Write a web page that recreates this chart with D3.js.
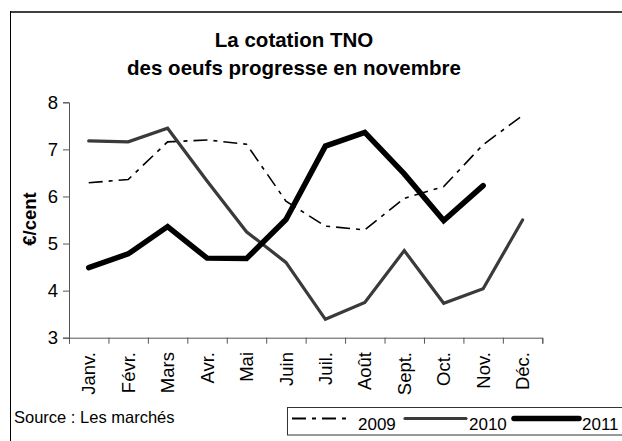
<html>
  <head>
    <meta charset="utf-8">
    <title>cotation TNO</title>
    <script src="https://d3js.org/d3.v7.min.js"></script>
    <style>
      body { margin: 0; background: #fff; }
      text { font-family: "Liberation Sans", Arial, sans-serif; fill: #000; }
    </style>
  </head>

  <body>
    <div id='wrapper'>
      <script>
        // Values
        var months = ["Janv.", "Févr.", "Mars", "Avr.", "Mai", "Juin", "Juil.", "Août", "Sept.", "Oct.", "Nov.", "Déc."];
        var yTicks = [3, 4, 5, 6, 7, 8];
        var v2009 = [6.29, 6.36, 7.16, 7.20, 7.11, 5.90, 5.37, 5.29, 5.96, 6.21, 7.10, 7.72];
        var v2010 = [7.18, 7.16, 7.45, 6.33, 5.25, 4.60, 3.39, 3.75, 4.85, 3.73, 4.04, 5.50];
        var v2011 = [4.49, 4.78, 5.36, 4.69, 4.68, 5.51, 7.07, 7.36, 6.48, 5.49, 6.23];
        var seriesNames = ["2009", "2010", "2011"];

        var W = 622, H = 441;
        var plotLeft = 69, plotRight = 542.3, plotTop = 102.3, plotBottom = 337.7;

        var svg = d3.select("#wrapper").append("svg")
          .attr("width", W)
          .attr("height", H);

        // outer frame (top and left visible)
        svg.append("line").attr("x1", 10.5).attr("x2", W).attr("y1", 12).attr("y2", 12)
           .attr("stroke", "#404040").attr("stroke-width", 2);
        svg.append("line").attr("x1", 10.5).attr("x2", 10.5).attr("y1", 11).attr("y2", H)
           .attr("stroke", "#000").attr("stroke-width", 1);

        // title
        var title = svg.append("text")
          .attr("text-anchor", "middle")
          .style("font-size", "20.5px")
          .style("font-weight", "bold");
        title.append("tspan").attr("x", 294).attr("y", 47).text("La cotation TNO");
        title.append("tspan").attr("x", 294).attr("y", 75).text("des oeufs progresse en novembre");

        // scales
        var x = d3.scaleBand().domain(months).range([plotLeft, plotRight]);
        var xEdge = d3.scaleLinear().domain([0, 12]).range([plotLeft, plotRight]);
        var y = d3.scaleLinear().domain([3, 8]).range([plotBottom, plotTop]);

        // y axis
        var yAxis = d3.axisLeft(y).tickValues(yTicks).tickFormat(d3.format("d")).tickSize(6).tickPadding(5);
        var gy = svg.append("g").attr("transform", "translate(" + plotLeft + ",0)").call(yAxis);
        gy.selectAll("path, line").attr("stroke", "#555");
        gy.selectAll("text")
          .style("font-size", "18.5px")
          .style("font-family", "Liberation Sans, Arial, sans-serif")
          .attr("fill", "#000");

        // x axis: ticks on the category boundaries
        var xAxis = d3.axisBottom(xEdge).ticks(12).tickFormat("").tickSize(6).tickSizeOuter(6);
        var gx = svg.append("g").attr("transform", "translate(0," + plotBottom + ")").call(xAxis);
        gx.selectAll("path, line").attr("stroke", "#555");

        // month labels
        svg.selectAll(".month").data(months).enter().append("text")
          .attr("class", "month")
          .attr("transform", function(d) { return "translate(" + (x(d) + x.bandwidth()/2) + ",352) rotate(-90)"; })
          .attr("text-anchor", "end")
          .attr("dy", "0.36em")
          .style("font-size", "18.5px")
          .text(function(d) { return d; });

        // y label
        svg.append("text")
          .attr("transform", "translate(29,219) rotate(-90)")
          .attr("text-anchor", "middle")
          .attr("dy", "0.36em")
          .style("font-size", "18.5px")
          .style("font-weight", "bold")
          .text("€/cent");

        // lines
        var line = d3.line()
          .x(function(d, i) { return x(months[i]) + x.bandwidth()/2; })
          .y(function(d) { return y(d); });

        var styles = [
          { w: 1.6, c: "#000", dash: "14,6,4,6", cap: "butt" },
          { w: 3.2, c: "#3a3a3a", dash: null, cap: "round" },
          { w: 5.5, c: "#000", dash: null, cap: "round" }
        ];
        var allValues = [v2009, v2010, v2011];

        allValues.forEach(function(vals, k) {
          svg.append("path")
            .datum(vals)
            .attr("d", line)
            .attr("fill", "none")
            .attr("stroke", styles[k].c)
            .attr("stroke-width", styles[k].w)
            .attr("stroke-dasharray", styles[k].dash)
            .attr("stroke-linecap", styles[k].cap)
            .attr("stroke-linejoin", "miter");
        });

        // source
        svg.append("text")
          .attr("x", 14)
          .attr("y", 423)
          .style("font-size", "16.5px")
          .text("Source : Les marchés");

        // legend
        svg.append("rect")
          .attr("x", 287.5).attr("y", 407.5)
          .attr("width", 400).attr("height", 27.5)
          .attr("fill", "none").attr("stroke", "#333").attr("stroke-width", 1);

        var legendX = [[292, 350, 358], [405, 466, 469], [514, 579, 582]];
        seriesNames.forEach(function(name, k) {
          svg.append("line")
            .attr("x1", legendX[k][0]).attr("x2", legendX[k][1])
            .attr("y1", 418.5).attr("y2", 418.5)
            .attr("stroke", styles[k].c)
            .attr("stroke-width", k == 0 ? 2 : styles[k].w)
            .attr("stroke-dasharray", styles[k].dash)
            .attr("stroke-linecap", styles[k].cap);
          svg.append("text")
            .attr("x", legendX[k][2])
            .attr("y", 430)
            .style("font-size", "17px")
            .text(name);
        });
      </script>
    </div>
  </body>
</html>
